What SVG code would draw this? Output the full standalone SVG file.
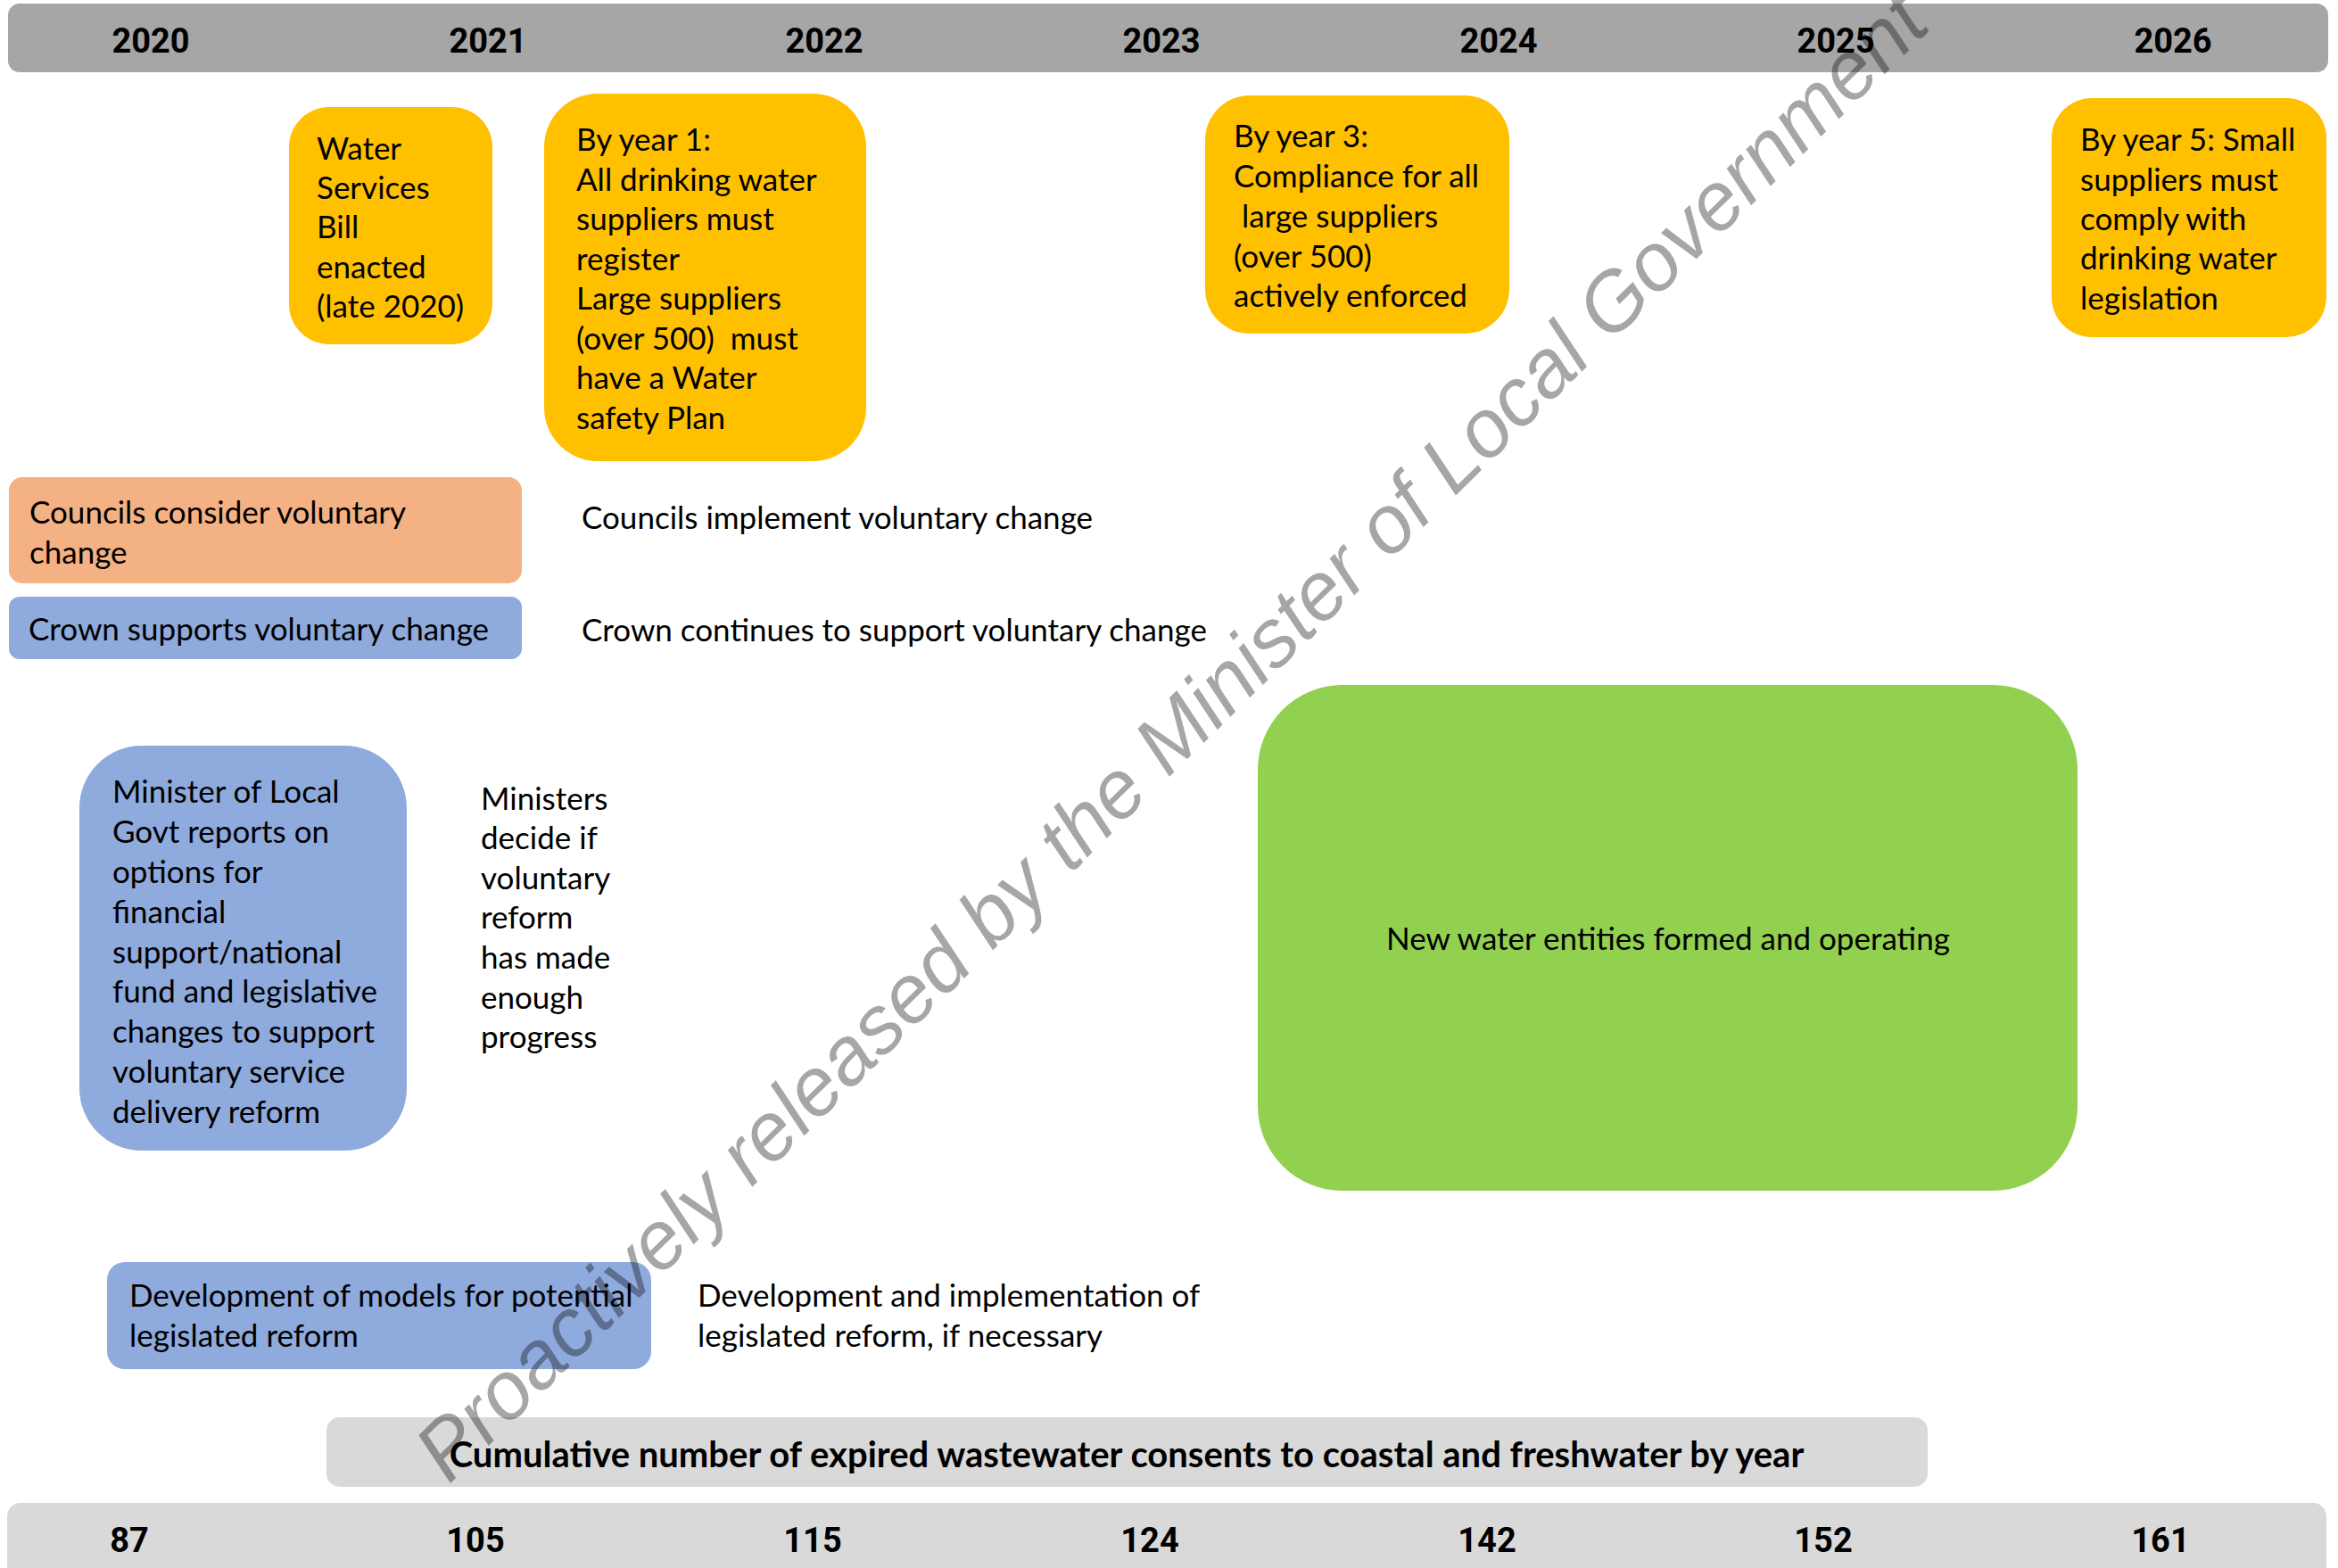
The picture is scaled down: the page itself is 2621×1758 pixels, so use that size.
<svg xmlns="http://www.w3.org/2000/svg" width="2621" height="1758" viewBox="0 0 2621 1758">
<style>
.t{font-family:Lato,"Liberation Sans",sans-serif;font-size:35px;fill:#000;white-space:pre}
.yr{font-family:Roboto,"Liberation Sans",sans-serif;font-weight:bold;font-size:38px;fill:#000;text-anchor:middle}
.cb{font-family:Lato,"Liberation Sans",sans-serif;font-weight:bold;font-size:40px;fill:#000;text-anchor:middle}
.gold{fill:#FFC000}
.blue{fill:#8FAADC}
.orange{fill:#F4B183}
.green{fill:#92D050}
.grey{fill:#D9D9D9}
.wm{font-family:"Liberation Sans",Arial,sans-serif;font-style:italic;font-size:92px;fill:#000;fill-opacity:0.35}
</style>
<rect width="2621" height="1758" fill="#fff"/>
<g id="year-bar">
<rect x="9" y="4" width="2601" height="77" rx="13" fill="#A6A6A6"/>
<text class="yr" x="169" y="59">2020</text>
<text class="yr" x="547" y="59">2021</text>
<text class="yr" x="924" y="59">2022</text>
<text class="yr" x="1302" y="59">2023</text>
<text class="yr" x="1680" y="59">2024</text>
<text class="yr" x="2058" y="59">2025</text>
<text class="yr" x="2436" y="59">2026</text>
</g>
<g id="water-services-bill">
<rect class="gold" x="324" y="120" width="228" height="266" rx="45"/>
<text class="t" x="355" y="179">Water</text>
<text class="t" x="355" y="223">Services</text>
<text class="t" x="355" y="267">Bill</text>
<text class="t" x="355" y="312">enacted</text>
<text class="t" x="355" y="356">(late 2020)</text>
</g>
<g id="by-year-1">
<rect class="gold" x="610" y="105" width="361" height="412" rx="60"/>
<text class="t" x="646" y="169">By year 1:</text>
<text class="t" x="646" y="213.5">All drinking water</text>
<text class="t" x="646" y="258">suppliers must</text>
<text class="t" x="646" y="302.5">register</text>
<text class="t" x="646" y="347">Large suppliers</text>
<text class="t" x="646" y="391.5">(over 500)  must</text>
<text class="t" x="646" y="436">have a Water</text>
<text class="t" x="646" y="480.5">safety Plan</text>
</g>
<g id="by-year-3">
<rect class="gold" x="1351" y="107" width="341" height="267" rx="50"/>
<text class="t" x="1383" y="165">By year 3:</text>
<text class="t" x="1383" y="210">Compliance for all</text>
<text class="t" x="1383" y="255"> large suppliers</text>
<text class="t" x="1383" y="300">(over 500)</text>
<text class="t" x="1383" y="344">actively enforced</text>
</g>
<g id="by-year-5">
<rect class="gold" x="2300" y="110" width="308" height="268" rx="45"/>
<text class="t" x="2332" y="169">By year 5: Small</text>
<text class="t" x="2332" y="213.5">suppliers must</text>
<text class="t" x="2332" y="258">comply with</text>
<text class="t" x="2332" y="302">drinking water</text>
<text class="t" x="2332" y="347">legislation</text>
</g>
<g id="councils-consider">
<rect class="orange" x="10" y="535" width="575" height="119" rx="15"/>
<text class="t" x="33" y="587">Councils consider voluntary</text>
<text class="t" x="33" y="632">change</text>
</g>
<g id="councils-implement">
<text class="t" x="652" y="593">Councils implement voluntary change</text>
</g>
<g id="crown-supports">
<rect class="blue" x="10" y="669" width="575" height="70" rx="12"/>
<text class="t" x="32" y="718">Crown supports voluntary change</text>
</g>
<g id="crown-continues">
<text class="t" x="652" y="719">Crown continues to support voluntary change</text>
</g>
<g id="minister-reports">
<rect class="blue" x="89" y="836" width="367" height="454" rx="70"/>
<text class="t" x="126" y="900">Minister of Local</text>
<text class="t" x="126" y="945">Govt reports on</text>
<text class="t" x="126" y="990">options for</text>
<text class="t" x="126" y="1035">financial</text>
<text class="t" x="126" y="1080">support/national</text>
<text class="t" x="126" y="1124">fund and legislative</text>
<text class="t" x="126" y="1169">changes to support</text>
<text class="t" x="126" y="1214">voluntary service</text>
<text class="t" x="126" y="1259">delivery reform</text>
</g>
<g id="ministers-decide">
<text class="t" x="539" y="908">Ministers</text>
<text class="t" x="539" y="952">decide if</text>
<text class="t" x="539" y="997">voluntary</text>
<text class="t" x="539" y="1041">reform</text>
<text class="t" x="539" y="1086">has made</text>
<text class="t" x="539" y="1131">enough</text>
<text class="t" x="539" y="1175">progress</text>
</g>
<g id="new-water-entities">
<rect class="green" x="1410" y="768" width="919" height="567" rx="95"/>
<text class="t" x="1870" y="1065" text-anchor="middle">New water entities formed and operating</text>
</g>
<g id="development-models">
<rect class="blue" x="120" y="1415" width="610" height="120" rx="20"/>
<text class="t" x="145" y="1465">Development of models for potential</text>
<text class="t" x="145" y="1510">legislated reform</text>
</g>
<g id="development-implementation">
<text class="t" x="782" y="1465">Development and implementation of</text>
<text class="t" x="782" y="1510">legislated reform, if necessary</text>
</g>
<g id="consents-title">
<rect class="grey" x="366" y="1589" width="1795" height="78" rx="15"/>
<text class="cb" x="1263" y="1645">Cumulative number of expired wastewater consents to coastal and freshwater by year</text>
</g>
<g id="consents-numbers">
<rect class="grey" x="8" y="1685" width="2600" height="90" rx="15"/>
<text class="yr" x="145" y="1740">87</text>
<text class="yr" x="533" y="1740">105</text>
<text class="yr" x="911" y="1740">115</text>
<text class="yr" x="1289" y="1740">124</text>
<text class="yr" x="1667" y="1740">142</text>
<text class="yr" x="2044" y="1740">152</text>
<text class="yr" x="2422" y="1740">161</text>
</g>
<g id="connectors"></g>
<text class="wm" transform="translate(503,1665) rotate(-44.5)">Proactively released by the Minister of Local Government</text>
</svg>
